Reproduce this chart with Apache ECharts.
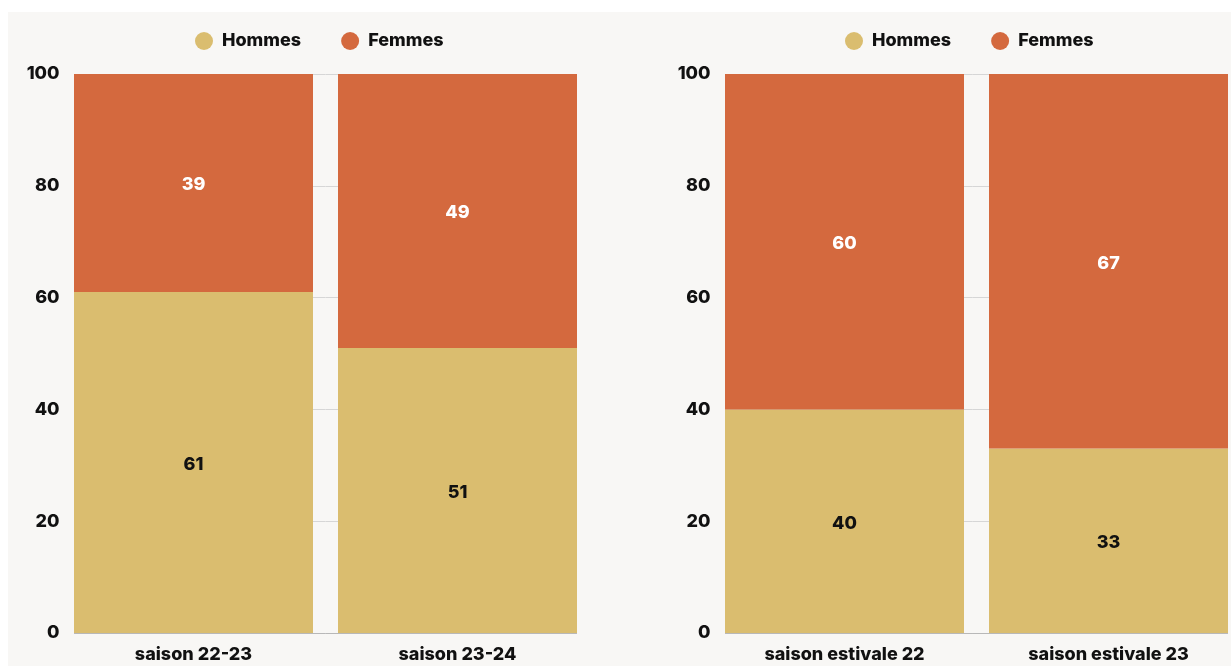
<!DOCTYPE html>
<html>
<head>
<meta charset="utf-8">
<script src="https://cdn.jsdelivr.net/npm/echarts@6/dist/echarts.min.js"></script>
<style>
html,body{margin:0;padding:0;background:#ffffff;}
#chart{width:1231px;height:666px;}
</style>
</head>
<body>
<div id="chart"></div>
<script>
const seriesNames = ['Hommes', 'Femmes'];
const categoriesLeft = ['saison 22-23', 'saison 23-24'];
const hommesLeft = [61, 51];
const femmesLeft = [39, 49];
const categoriesRight = ['saison estivale 22', 'saison estivale 23'];
const hommesRight = [40, 33];
const femmesRight = [60, 67];
const yTicks = [0, 20, 40, 60, 80, 100];

const colHommes = '#dabd6f';
const colFemmes = '#d4693e';
const BG = '#f8f7f5';
const FONT = 'Inter';
const FS = 18;
const FW = 800;

const chart = echarts.init(document.getElementById('chart'), null, {renderer: 'canvas'});

function xAxis(idx, cats) {
  return {
    type: 'category', gridIndex: idx, data: cats,
    axisLine: {show: true, lineStyle: {color: '#b8b8b8', width: 1}},
    axisTick: {show: false},
    axisLabel: {color: '#111', fontFamily: FONT, fontWeight: FW, fontSize: FS, margin: 13}
  };
}
function yAxis(idx) {
  return {
    type: 'value', gridIndex: idx, min: yTicks[0], max: yTicks[yTicks.length - 1], interval: 20,
    axisLine: {show: false}, axisTick: {show: false},
    splitLine: {show: true, lineStyle: {color: '#d6d6d6', width: 1}},
    axisLabel: {color: '#111', fontFamily: FONT, fontWeight: FW, fontSize: FS, margin: 2, padding: [3, 0, 0, 0]}
  };
}
function bar(name, data, xi, color, labelColor) {
  return {
    name: name, type: 'bar', stack: 'g' + xi, xAxisIndex: xi, yAxisIndex: xi,
    data: data, barWidth: 239,
    itemStyle: {color: color},
    label: {show: true, position: 'inside', offset: [0, 2], color: labelColor, fontFamily: FONT, fontWeight: FW, fontSize: FS},
    emphasis: {disabled: true}
  };
}
function legend(left) {
  return {
    data: seriesNames, top: 27, left: left, itemWidth: 18, itemHeight: 18, icon: 'circle', itemGap: 40,
    textStyle: {color: '#111', fontFamily: FONT, fontWeight: FW, fontSize: FS, padding: [0, 0, 0, 4]},
    selectedMode: false
  };
}
function cover(x, w) {
  return {type: 'rect', left: x, top: 66, shape: {width: w, height: 569}, style: {fill: BG}, z: 5, silent: true};
}

chart.setOption({
  backgroundColor: BG,
  animation: false,
  color: [colHommes, colFemmes],
  graphic: [
    {type: 'rect', left: 0, top: 0, shape: {width: 1231, height: 12}, style: {fill: '#ffffff'}, z: -10},
    {type: 'rect', left: 0, top: 0, shape: {width: 8, height: 666}, style: {fill: '#ffffff'}, z: -10},
    cover(61, 13), cover(577, 14), cover(712, 13), cover(1228, 3)
  ],
  legend: [legend(190), legend(840)],
  grid: [
    {left: 61.5, top: 74, width: 528, height: 559, outerBoundsMode: 'none', containLabel: false},
    {left: 712.5, top: 74, width: 528, height: 559, outerBoundsMode: 'none', containLabel: false}
  ],
  xAxis: [xAxis(0, categoriesLeft), xAxis(1, categoriesRight)],
  yAxis: [yAxis(0), yAxis(1)],
  series: [
    bar(seriesNames[0], hommesLeft, 0, colHommes, '#111'),
    bar(seriesNames[1], femmesLeft, 0, colFemmes, '#ffffff'),
    bar(seriesNames[0], hommesRight, 1, colHommes, '#111'),
    bar(seriesNames[1], femmesRight, 1, colFemmes, '#ffffff')
  ]
});
</script>
</body>
</html>
